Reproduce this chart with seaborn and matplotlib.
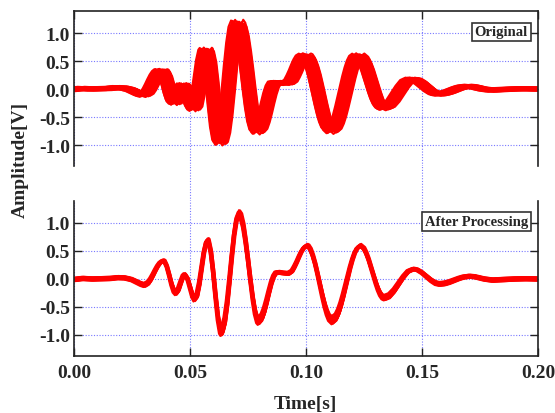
# Stacked waveform plot: original traces vs. after processing
import numpy as np
import pandas as pd
import matplotlib
matplotlib.use("Agg")
import matplotlib.pyplot as plt
import seaborn as sns

# Base waveform (time in s, amplitude in V)
time_s = [-0.005, 0.000, 0.004, 0.008, 0.012, 0.016, 0.019, 0.022, 0.025, 0.027, 0.029,
          0.0305, 0.032, 0.033, 0.034, 0.035, 0.036, 0.037, 0.038, 0.0385, 0.039,
          0.040, 0.041, 0.042, 0.043, 0.044, 0.045, 0.046, 0.047, 0.0478, 0.049,
          0.050, 0.051, 0.052, 0.053, 0.054, 0.055, 0.056, 0.057, 0.0576, 0.058,
          0.059, 0.060, 0.061, 0.062, 0.063, 0.0636, 0.064, 0.065, 0.066, 0.067,
          0.068, 0.069, 0.070, 0.0711, 0.072, 0.073, 0.074, 0.075, 0.076, 0.077,
          0.078, 0.079, 0.0797, 0.081, 0.082, 0.083, 0.084, 0.085, 0.086, 0.087,
          0.0885, 0.090, 0.0925, 0.094, 0.095, 0.096, 0.097, 0.098, 0.099, 0.1003,
          0.101, 0.102, 0.103, 0.104, 0.105, 0.106, 0.107, 0.108, 0.109, 0.110,
          0.1115, 0.113, 0.114, 0.115, 0.116, 0.117, 0.118, 0.119, 0.120, 0.121,
          0.122, 0.1233, 0.125, 0.126, 0.127, 0.128, 0.129, 0.130, 0.131, 0.132,
          0.133, 0.134, 0.136, 0.138, 0.140, 0.142, 0.144, 0.1463, 0.148, 0.150,
          0.152, 0.154, 0.156, 0.1578, 0.160, 0.162, 0.164, 0.166, 0.168, 0.1707,
          0.173, 0.175, 0.177, 0.1806, 0.185, 0.190, 0.195, 0.200, 0.205]
amp_v = [-0.01, -0.01, 0.01, 0.00, 0.005, 0.01, 0.025, 0.02, -0.01, -0.05, -0.09,
         -0.11, -0.073, -0.012, 0.067, 0.153, 0.232, 0.293, 0.326, 0.33, 0.318,
         0.230, 0.081, -0.081, -0.204, -0.25, -0.197, -0.071, 0.046, 0.08, 0.004,
         -0.14, -0.284, -0.358, -0.304, -0.095, 0.201, 0.485, 0.668, 0.70, 0.682,
         0.488, 0.130, -0.297, -0.677, -0.910, -0.95, -0.935, -0.772, -0.456, -0.041,
         0.400, 0.794, 1.069, 1.18, 1.128, 0.957, 0.679, 0.352, 0.000, -0.323,
         -0.577, -0.728, -0.76, -0.701, -0.584, -0.425, -0.249, -0.085, 0.041, 0.111,
         0.12, 0.11, 0.10, 0.144, 0.221, 0.310, 0.409, 0.500, 0.567, 0.60,
         0.587, 0.525, 0.414, 0.269, 0.092, -0.094, -0.280, -0.450, -0.591, -0.691,
         -0.75, -0.697, -0.606, -0.476, -0.319, -0.147, 0.033, 0.204, 0.355, 0.478,
         0.560, 0.60, 0.543, 0.460, 0.351, 0.219, 0.082, -0.050, -0.169, -0.262,
         -0.320, -0.34, -0.307, -0.214, -0.090, 0.037, 0.137, 0.18, 0.166, 0.116,
         0.047, -0.021, -0.074, -0.09, -0.080, -0.056, -0.024, 0.009, 0.035, 0.05,
         0.04, 0.02, 0.0, -0.02, -0.01, 0.0, 0.005, 0.0, 0.0]

# Per-trace jitter of the original recordings
orig_shift = [-0.0034, -0.00315, -0.0029, -0.00265, -0.0024, -0.00215, -0.0019, -0.00165,
              -0.0014, -0.00115, -0.0009, -0.00065, -0.0004, -0.00015, 0.0001, 0.00035,
              0.0006, 0.00085, 0.0011, 0.00135, 0.0016, 0.00185, 0.0021, 0.00235]
orig_gain = [1.02, 0.97, 1.00, 1.04, 0.96, 1.01, 0.98, 1.03, 0.99, 1.00, 0.97, 1.02,
             1.00, 0.98, 1.01, 1.03, 0.96, 0.99, 1.02, 0.97, 1.01, 1.04, 0.98, 1.00]
orig_offset = [0.02, -0.02, 0.01, -0.01, 0.03, -0.03, 0.00, 0.02, -0.02, 0.01, -0.01, 0.00,
               0.02, -0.02, 0.01, -0.03, 0.03, 0.00, -0.01, 0.02, -0.02, 0.01, 0.00, -0.01]

# Traces after processing (aligned)
proc_shift = [-0.0006, -0.0005, -0.0004, -0.0003, -0.0002, -0.0001, 0.0,
              0.0001, 0.0002, 0.0003, 0.0004, 0.0005, 0.0006]
proc_gain = [0.93, 1.04, 0.96, 1.01, 0.95, 1.00, 1.05, 0.97, 1.02, 0.94, 0.99, 1.03, 0.98]
proc_offset = [0.03, -0.03, 0.01, -0.02, 0.02, 0.00, -0.01, 0.03, -0.03, 0.02, -0.02, 0.01, -0.01]

x_ticks = [0.00, 0.05, 0.10, 0.15, 0.20]
x_labels = ["0.00", "0.05", "0.10", "0.15", "0.20"]
y_ticks = [-1.0, -0.5, 0.0, 0.5, 1.0]
y_labels = ["-1.0", "-0.5", "0.0", "0.5", "1.0"]


def build(shifts, gains, offsets):
    parts = []
    for k, (s, g, o) in enumerate(zip(shifts, gains, offsets)):
        parts.append(pd.DataFrame({"t": np.array(time_s) + s,
                                   "v": np.array(amp_v) * g + o,
                                   "trace": k}))
    return pd.concat(parts, ignore_index=True)


df_orig = build(orig_shift, orig_gain, orig_offset)
df_proc = build(proc_shift, proc_gain, proc_offset)

sns.set_style("white")
plt.rcParams["font.family"] = ["Liberation Serif", "DejaVu Serif"]
plt.rcParams["font.weight"] = "bold"

fig = plt.figure(figsize=(5.55, 4.14), dpi=100)
ax1 = fig.add_axes([0.1333, 0.5966, 0.836, 0.3744])
ax2 = fig.add_axes([0.1333, 0.1377, 0.836, 0.3744])

grid_kw = dict(color="#7878ff", ls=(0, (1, 1.5)), lw=0.8)

for ax, df, label in [(ax1, df_orig, "Original"), (ax2, df_proc, "After Processing")]:
    sns.lineplot(data=df, x="t", y="v", units="trace", estimator=None, sort=False,
                 color="#ff0000", lw=1.5, ax=ax, legend=False)
    ax.set_xlim(0, 0.2)
    ax.set_ylim(-1.375, 1.393)
    ax.set_xticks(x_ticks)
    ax.set_yticks(y_ticks)
    ax.set_yticklabels(y_labels)
    ax.set_xlabel("")
    ax.set_ylabel("")
    ax.grid(True, **grid_kw)
    ax.set_axisbelow(True)
    ax.tick_params(direction="in", length=6, width=1, color="#222222",
                   left=True, right=True, labelsize=14, pad=3)
    for sp in ax.spines.values():
        sp.set_color("#222222")
        sp.set_linewidth(1.2)
    ax.text(0.978, 0.865, label, transform=ax.transAxes, ha="right", va="center",
            fontsize=10.5, fontweight="bold",
            bbox=dict(boxstyle="square,pad=0.2", fc="white", ec="#333333", lw=1.2))

ax1.spines["bottom"].set_visible(False)
ax1.tick_params(axis="x", top=True, bottom=False, labelbottom=False)
ax2.spines["top"].set_visible(False)
ax2.tick_params(axis="x", top=False, bottom=True, pad=6)
ax2.set_xticklabels(x_labels)

# grid lines run through the gap between the panels
for x in x_ticks[1:-1]:
    ax1.axvline(x, ymin=-0.226, ymax=0, clip_on=False, zorder=0, **grid_kw)

fig.text(20 / 555, 1 - 160 / 414, "Amplitude[V]", rotation=90, ha="center", va="center",
         fontsize=14, fontweight="bold")
fig.text(305 / 555, 1 - 405 / 414, "Time[s]", ha="center", va="center",
         fontsize=14, fontweight="bold")

fig.savefig("out.png", dpi=100)
